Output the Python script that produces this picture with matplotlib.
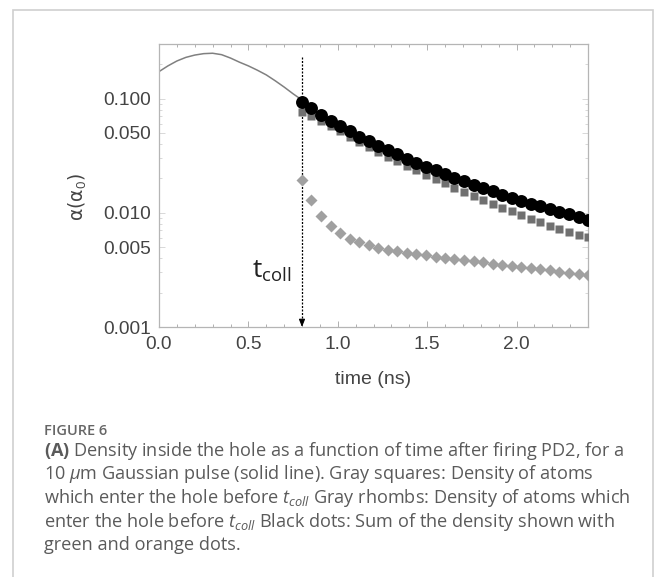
import matplotlib
matplotlib.use("Agg")
import matplotlib.pyplot as plt
from matplotlib.patches import Rectangle
from matplotlib.ticker import FixedLocator, FixedFormatter, LogLocator, MultipleLocator, NullFormatter

plt.rcParams['mathtext.fontset'] = 'custom'
plt.rcParams['mathtext.rm'] = 'Open Sans'
plt.rcParams['mathtext.it'] = 'Open Sans:italic'
plt.rcParams['mathtext.bf'] = 'Open Sans:bold'

# solid line: pulse density before t_coll
curve_t = [0.00, 0.05, 0.10, 0.15, 0.20, 0.25, 0.30, 0.35, 0.40, 0.45,
           0.50, 0.55, 0.60, 0.65, 0.70, 0.75, 0.80]
curve_d = [0.172, 0.193, 0.213, 0.229, 0.240, 0.247, 0.249, 0.242, 0.226, 0.208,
           0.193, 0.177, 0.161, 0.143, 0.126, 0.110, 0.097]

# sampled points after t_coll
pts_t = [0.800, 0.853, 0.907, 0.960, 1.013, 1.067, 1.120, 1.173, 1.227, 1.280,
         1.333, 1.387, 1.440, 1.493, 1.547, 1.600, 1.653, 1.707, 1.760, 1.813,
         1.867, 1.920, 1.973, 2.027, 2.080, 2.133, 2.187, 2.240, 2.293, 2.347, 2.400]
dots = [0.0940, 0.0820, 0.0718, 0.0640, 0.0575, 0.0520, 0.0463, 0.0425, 0.0386, 0.0354,
        0.0324, 0.0297, 0.0274, 0.0253, 0.0235, 0.0218, 0.0202, 0.0188, 0.0175, 0.0164,
        0.0154, 0.0144, 0.0135, 0.0127, 0.0120, 0.0114, 0.0108, 0.0102, 0.00967, 0.0092, 0.0087]
squares = [0.0767, 0.0704, 0.0636, 0.0575, 0.0516, 0.0461, 0.0414, 0.0374, 0.0340, 0.0310,
           0.0284, 0.0256, 0.0235, 0.0215, 0.0197, 0.0181, 0.0166, 0.0152, 0.0140, 0.0129,
           0.0120, 0.0110, 0.0103, 0.0096, 0.0089, 0.0083, 0.0077, 0.0072, 0.0068, 0.0064, 0.0061]
rhombs = [0.0193, 0.0129, 0.0094, 0.0077, 0.0066, 0.0059, 0.0055, 0.0052, 0.0049, 0.00476,
          0.0046, 0.00448, 0.00433, 0.00425, 0.00413, 0.00405, 0.00393, 0.00385, 0.00375, 0.00368,
          0.00358, 0.00351, 0.00341, 0.00335, 0.00326, 0.00319, 0.00313, 0.00305, 0.00299, 0.00291, 0.00285]

t_coll = 0.8
ytick_vals = [0.001, 0.005, 0.010, 0.050, 0.100]
ytick_labels = ['0.001', '0.005', '0.010', '0.050', '0.100']
xtick_vals = [0.0, 0.5, 1.0, 1.5, 2.0]
xtick_labels = ['0.0', '0.5', '1.0', '1.5', '2.0']

caption_lines = [
    r"$\mathbf{(A)}$ Density inside the hole as a function of time after firing PD2, for a",
    r"10 $\mu$m Gaussian pulse (solid line). Gray squares: Density of atoms",
    r"which enter the hole before $t_{coll}$ Gray rhombs: Density of atoms which",
    r"enter the hole before $t_{coll}$ Black dots: Sum of the density shown with",
    r"green and orange dots.",
]

W, H = 656, 577
fig = plt.figure(figsize=(W / 100, H / 100), dpi=100)

# outer frame of the figure panel
fig.patches.append(Rectangle((13 / W, -0.05), 640 / W, 1 - 10 / H + 0.05,
                             transform=fig.transFigure, fill=False,
                             edgecolor='#cfcfcf', lw=1.2))

ax = fig.add_axes([159 / W, 1 - 327 / H, 429 / W, 283 / H])

ax.plot(curve_t, curve_d, color='#808080', lw=1.1, zorder=2)
ax.plot(pts_t, rhombs, 'D', color='#a0a0a0', ms=6.0, mec='none', zorder=3)
ax.plot(pts_t, squares, 's', color='#707070', ms=6.0, mec='none', zorder=3)
ax.plot(pts_t, dots, 'o', color='black', ms=9.3, mec='none', zorder=4)

# t_coll marker: dotted line with arrow head at the bottom
ax.plot([t_coll, t_coll], [0.23, 0.00108], color='black', lw=0.9,
        ls=(0, (1.6, 1.2)), zorder=1)
ax.annotate('', xy=(t_coll, 0.001), xytext=(t_coll, 0.00115),
            arrowprops=dict(arrowstyle='-|>,head_length=0.45,head_width=0.18',
                            color='black', lw=0.8, shrinkA=0, shrinkB=0))
ax.text(0.52, 0.00267, r't$_{\mathrm{coll}}$', fontsize=19, family='Open Sans',
        color='#222222', ha='left', va='baseline')

ax.set_yscale('log')
ax.set_xlim(0, 2.4)
ax.set_ylim(0.001, 0.30)

tick_font = dict(family='Liberation Sans', size=13.8, color='#444444')
ax.yaxis.set_major_locator(FixedLocator(ytick_vals))
ax.yaxis.set_major_formatter(FixedFormatter(ytick_labels))
ax.yaxis.set_minor_locator(LogLocator(base=10, subs=range(2, 10)))
ax.yaxis.set_minor_formatter(NullFormatter())
ax.xaxis.set_major_locator(FixedLocator(xtick_vals))
ax.xaxis.set_major_formatter(FixedFormatter(xtick_labels))
ax.xaxis.set_minor_locator(MultipleLocator(0.1))

ax.tick_params(which='both', direction='in', top=True, right=True,
               color='#b0b0b0', width=0.7)
ax.tick_params(which='major', length=4.5)
ax.tick_params(which='minor', length=2.5)
ax.tick_params(axis='y', which='both', color='#d8d8d8')
ax.tick_params(axis='y', pad=6)
ax.tick_params(axis='x', pad=6.5)
for lab in ax.get_xticklabels() + ax.get_yticklabels():
    lab.set_fontfamily(tick_font['family'])
    lab.set_fontsize(tick_font['size'])
    lab.set_color(tick_font['color'])

for sp in ax.spines.values():
    sp.set_color('#b5b5b5')
    sp.set_linewidth(0.9)

ax.set_xlabel('time (ns)', family='Liberation Sans', fontsize=14,
              color='#444444', labelpad=13)
ax.set_ylabel(r'α(α$_0$)', family='DejaVu Sans', fontsize=13.5,
              color='#444444', labelpad=4)
ax.yaxis.set_label_coords(-0.165, 0.46)

# caption
fig.text(44 / W, 1 - 435 / H, 'FIGURE 6', family='Open Sans', fontsize=10.5,
         weight='semibold', color='#666666', va='baseline')
for i, line in enumerate(caption_lines):
    fig.text(44 / W, 1 - (455.7 + 23.65 * i) / H, line, family='Open Sans',
             fontsize=13.1, color='#5a5a5a', va='baseline')

fig.savefig('out.png', dpi=100)
